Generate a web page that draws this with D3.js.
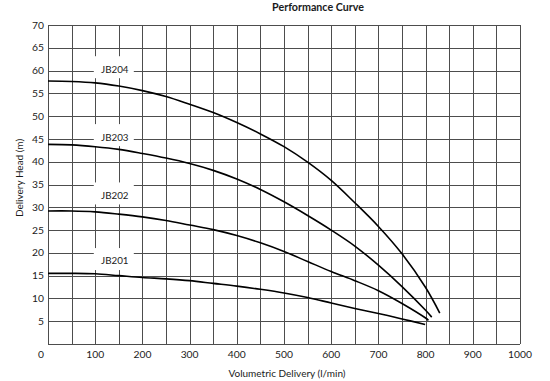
<!DOCTYPE html>
<html>
<head>
<meta charset="utf-8">
<script src="https://cdn.jsdelivr.net/npm/d3@7"></script>
<style>
  html, body { margin: 0; padding: 0; background: #fff; }
  svg { display: block; }
  text { font-family: Lato, "Open Sans", sans-serif; fill: #1a1a1a; }
</style>
</head>
<body>
<svg id="chart" width="550" height="381"></svg>
<script>
// ---- data ----
const seriesNames = ["JB204", "JB203", "JB202", "JB201"];
const flowJB204 = [0, 50, 100, 150, 200, 250, 300, 350, 400, 450, 500, 550, 600, 650, 700, 750, 800, 830];
const headJB204 = [57.7, 57.6, 57.3, 56.6, 55.6, 54.3, 52.6, 50.8, 48.6, 46.1, 43.3, 39.9, 35.9, 31.0, 25.8, 19.8, 12.4, 6.8];
const flowJB203 = [0, 50, 100, 150, 200, 250, 300, 350, 400, 450, 500, 550, 600, 650, 700, 750, 800, 813];
const headJB203 = [43.8, 43.7, 43.3, 42.7, 41.8, 40.8, 39.6, 38.1, 36.2, 33.9, 31.2, 28.2, 25.0, 21.5, 17.3, 12.6, 7.4, 5.9];
const flowJB202 = [0, 50, 100, 150, 200, 250, 300, 350, 400, 450, 500, 550, 600, 650, 700, 750, 800, 806];
const headJB202 = [29.2, 29.2, 29.0, 28.5, 27.9, 27.1, 26.1, 25.1, 23.8, 22.2, 20.3, 18.1, 15.9, 13.9, 11.7, 8.9, 5.7, 5.2];
const flowJB201 = [0, 50, 100, 150, 200, 250, 300, 350, 400, 450, 500, 550, 600, 650, 700, 750, 799];
const headJB201 = [15.5, 15.5, 15.4, 15.0, 14.6, 14.3, 13.9, 13.3, 12.7, 12.0, 11.2, 10.2, 9.0, 7.8, 6.7, 5.5, 4.3];
// label anchors (flow, head) for series names
const labelFlow = [150, 150, 150, 150];
const labelHead = [60.3, 45.4, 32.6, 18.2];
const xTicks = [0, 100, 200, 300, 400, 500, 600, 700, 800, 900, 1000];
const yTicks = [5, 10, 15, 20, 25, 30, 35, 40, 45, 50, 55, 60, 65, 70];
const xGrid = d3.range(0, 1001, 50);
const yGrid = d3.range(0, 71, 5);
const title = "Performance Curve";
const xTitle = "Volumetric Delivery (l/min)";
const yTitle = "Delivery Head (m)";

const series = [
  {name: seriesNames[0], flow: flowJB204, head: headJB204},
  {name: seriesNames[1], flow: flowJB203, head: headJB203},
  {name: seriesNames[2], flow: flowJB202, head: headJB202},
  {name: seriesNames[3], flow: flowJB201, head: headJB201}
];

// ---- layout ----
const svg = d3.select("#chart");
const mLeft = 48, mRight = 520, mTop = 25, mBottom = 344;
const x = d3.scaleLinear().domain([0, 1000]).range([mLeft, mRight]);
const y = d3.scaleLinear().domain([0, 70]).range([mBottom, mTop]);

const gridColor = "#4d4d4d";
const g = svg.append("g");

// grid
g.append("g").selectAll("line").data(xGrid).join("line")
  .attr("x1", d => Math.round(x(d)) + 0.5).attr("x2", d => Math.round(x(d)) + 0.5)
  .attr("y1", y(0)).attr("y2", y(70))
  .attr("stroke", gridColor).attr("stroke-width", 1);
g.append("g").selectAll("line").data(yGrid).join("line")
  .attr("y1", d => Math.round(y(d)) + 0.5).attr("y2", d => Math.round(y(d)) + 0.5)
  .attr("x1", x(0)).attr("x2", x(1000))
  .attr("stroke", gridColor).attr("stroke-width", 1);

// series labels (white boxes breaking the grid)
const lab = g.append("g").selectAll("g").data(series).join("g")
  .attr("transform", (d, i) => `translate(${x(labelFlow[i]) - 4},${y(labelHead[i])})`);
lab.append("rect").attr("x", -21).attr("y", -13).attr("width", 40).attr("height", 22).attr("fill", "#fff");
lab.append("text").attr("text-anchor", "middle").attr("dy", "0.35em")
  .style("font-size", "9.8px").text(d => d.name);

// curves
const line = d3.line().x(d => x(d[0])).y(d => y(d[1])).curve(d3.curveCatmullRom.alpha(0.5));
g.append("g").selectAll("path").data(series).join("path")
  .attr("d", s => line(s.flow.map((f, i) => [f, s.head[i]])))
  .attr("fill", "none").attr("stroke", "#000").attr("stroke-width", 1.6);

// y tick labels
g.append("g").selectAll("text").data(yTicks).join("text")
  .attr("x", mLeft - 4).attr("y", d => y(d)).attr("dy", "0.35em")
  .attr("text-anchor", "end").style("font-size", "10.3px").text(d => d);

// x tick labels
g.append("g").selectAll("text").data(xTicks).join("text")
  .attr("x", d => x(d) + (d === 0 ? -7 : 0)).attr("y", mBottom + 14)
  .attr("text-anchor", "middle").style("font-size", "10.3px").text(d => d);

// titles
svg.append("text").attr("x", 318).attr("y", 11).attr("text-anchor", "middle")
  .style("font-size", "10.7px").style("font-weight", "bold").text(title);
svg.append("text").attr("x", 287).attr("y", 377).attr("text-anchor", "middle")
  .style("font-size", "10px").text(xTitle);
svg.append("text").attr("transform", "translate(23,178) rotate(-90)").attr("text-anchor", "middle")
  .style("font-size", "10px").text(yTitle);
</script>
</body>
</html>
